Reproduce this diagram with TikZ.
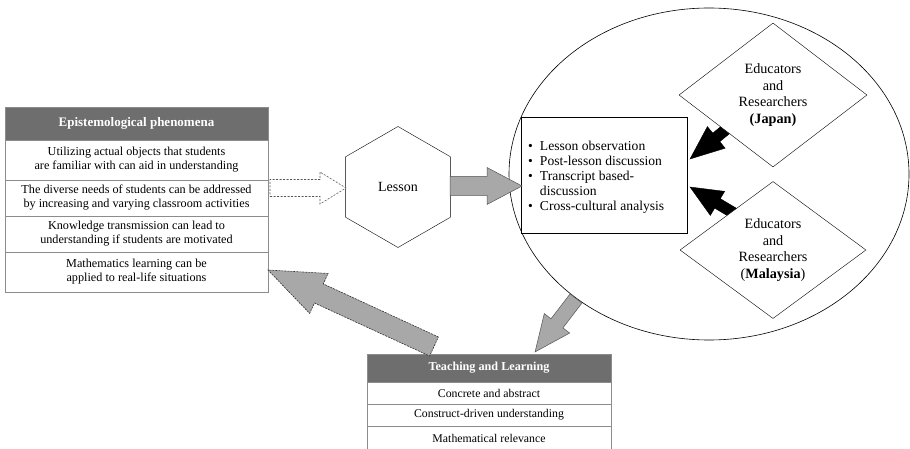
\documentclass[tikz,border=0pt]{standalone}
\usepackage{fontspec}
\setmainfont{Liberation Serif}
\usetikzlibrary{shapes.geometric}
\definecolor{hdr}{HTML}{6E6E6E}
\definecolor{arrgray}{HTML}{A8A8A8}
\definecolor{rulec}{HTML}{8C8C8C}
\definecolor{edgec}{HTML}{555555}

\newcommand{\blockarrow}[6]{%
  \path (#1); \pgfgetlastxy{\baxa}{\baya}%
  \path (#2); \pgfgetlastxy{\baxb}{\bayb}%
  \pgfmathsetmacro{\baang}{atan2(\bayb-\baya,\baxb-\baxa)}%
  \pgfmathsetmacro{\balen}{veclen(\baxb-\baxa,\bayb-\baya)}%
  \begin{scope}[shift={(#1)},rotate=\baang,x=1pt,y=1pt]
    \draw[#6] (0,-#3) -- ({\balen-#5},-#3) -- ({\balen-#5},-#4) -- (\balen,0)
      -- ({\balen-#5},#4) -- ({\balen-#5},#3) -- (0,#3) -- cycle;
  \end{scope}}

\tikzset{
  cell/.style={draw=rulec, fill=white, minimum width=263pt, inner sep=0pt, align=center,
    font=\fontsize{12.2}{14}\selectfont},
  hcell/.style={cell, fill=hdr, text=white, font=\bfseries\fontsize{13}{15}\selectfont},
  tcell/.style={draw=rulec, fill=white, minimum width=244pt, inner sep=0pt, align=center,
    font=\fontsize{11.8}{13}\selectfont},
  thcell/.style={tcell, fill=hdr, text=white, font=\bfseries\fontsize{12.2}{14}\selectfont},
  dia/.style={draw, fill=white, diamond, aspect=1.3, inner sep=0pt, align=center,
    font=\fontsize{14.2}{16.5}\selectfont},
  grayarrow/.style={fill=arrgray, draw=edgec, line width=0.5pt},
  dasharrow/.style={fill=white, draw=edgec, line width=0.6pt, dash pattern=on 2pt off 1.5pt},
  bigdash/.style={fill=arrgray, draw=black!80, line width=0.6pt, dash pattern=on 2pt off 1pt},
  blackarrow/.style={fill=black, draw=black}
}

\begin{document}
\begin{tikzpicture}[x=1pt,y=-1pt]
\clip (0,0) rectangle (910,449);
\fill[white] (0,0) rectangle (910,449);

% left table
\node[hcell, minimum height=33pt] (eh) at (136.5,123.5) {Epistemological phenomena};
\node[cell, minimum height=40pt] (e1) at (136.5,160) {Utilizing actual objects that students\\are familiar with can aid in understanding};
\node[cell, minimum height=36pt] (e2) at (136.5,198) {The diverse needs of students can be addressed\\by increasing and varying classroom activities};
\node[cell, minimum height=36pt] (e3) at (136.5,234) {Knowledge transmission can lead to\\understanding if students are motivated};
\node[cell, minimum height=40pt] (e4) at (136.5,272) {Mathematics learning can be\\applied to real-life situations};

% lesson hexagon
\node[draw, regular polygon, regular polygon sides=6, shape border rotate=30,
  minimum size=121pt, inner sep=0pt, font=\fontsize{14}{16}\selectfont] (lesson) at (398,187) {Lesson};

% ellipse
\draw[line width=0.6pt] (709,174) ellipse [x radius=200, y radius=166];
\coordinate (ell) at (709,174);

% observation box
\node[draw, fill=white, minimum width=166pt, minimum height=116pt, inner sep=0pt] (obs) at (604,175) {};
\node[anchor=west, inner sep=0pt, font=\fontsize{13.6}{15}\selectfont] (obstext) at (528,177.5)
  {\begin{tabular}{@{}l@{\hspace{7pt}}l@{}}
   \textbullet & Lesson observation\\
   \textbullet & Post-lesson discussion\\
   \textbullet & Transcript based-\\
               & discussion\\
   \textbullet & Cross-cultural analysis
   \end{tabular}};

% arrow coordinates
\coordinate (a1s) at (270,188);
\coordinate (a1e) at (346,188);
\coordinate (a2s) at (450,186);
\coordinate (a2e) at (522,186);
\coordinate (a3s) at (735,122);
\coordinate (a3e) at (690,159);
\coordinate (a4s) at (742,218);
\coordinate (a4e) at (690,187);
\coordinate (a5s) at (576,298.5);
\coordinate (a5e) at (535,352);
\coordinate (a6s) at (434,346.5);
\coordinate (a6e) at (268,270);

\blockarrow{a1s}{a1e}{8.5}{16}{26}{dasharrow}
\blockarrow{a2s}{a2e}{9.5}{18.5}{35}{grayarrow}
\blockarrow{a3s}{a3e}{5.5}{14}{34}{blackarrow}
\blockarrow{a4s}{a4e}{5.5}{14}{32}{blackarrow}

% diamonds
\node[dia, minimum width=188pt, minimum height=144pt] (japan) at (773,95)
  {Educators\\and\\Researchers\\\textbf{(Japan)}};
\node[dia, minimum width=186pt, minimum height=137pt] (malaysia) at (773,250)
  {Educators\\and\\Researchers\\(\textbf{Malaysia})};

% teaching table
\node[thcell, minimum height=28pt] (th) at (489,368) {Teaching and Learning};
\node[tcell, minimum height=22pt] (t1) at (489,393) {Concrete and abstract};
\node[tcell, minimum height=22pt] (t2) at (489,415) {Construct-driven understanding};
\node[tcell, minimum height=28pt] (t3) at (489,440) {\raisebox{3pt}{Mathematical relevance}};

\blockarrow{a5s}{a5e}{7.5}{16}{36}{grayarrow}
\blockarrow{a6s}{a6e}{10.5}{22}{56}{bigdash}
\end{tikzpicture}
\end{document}
